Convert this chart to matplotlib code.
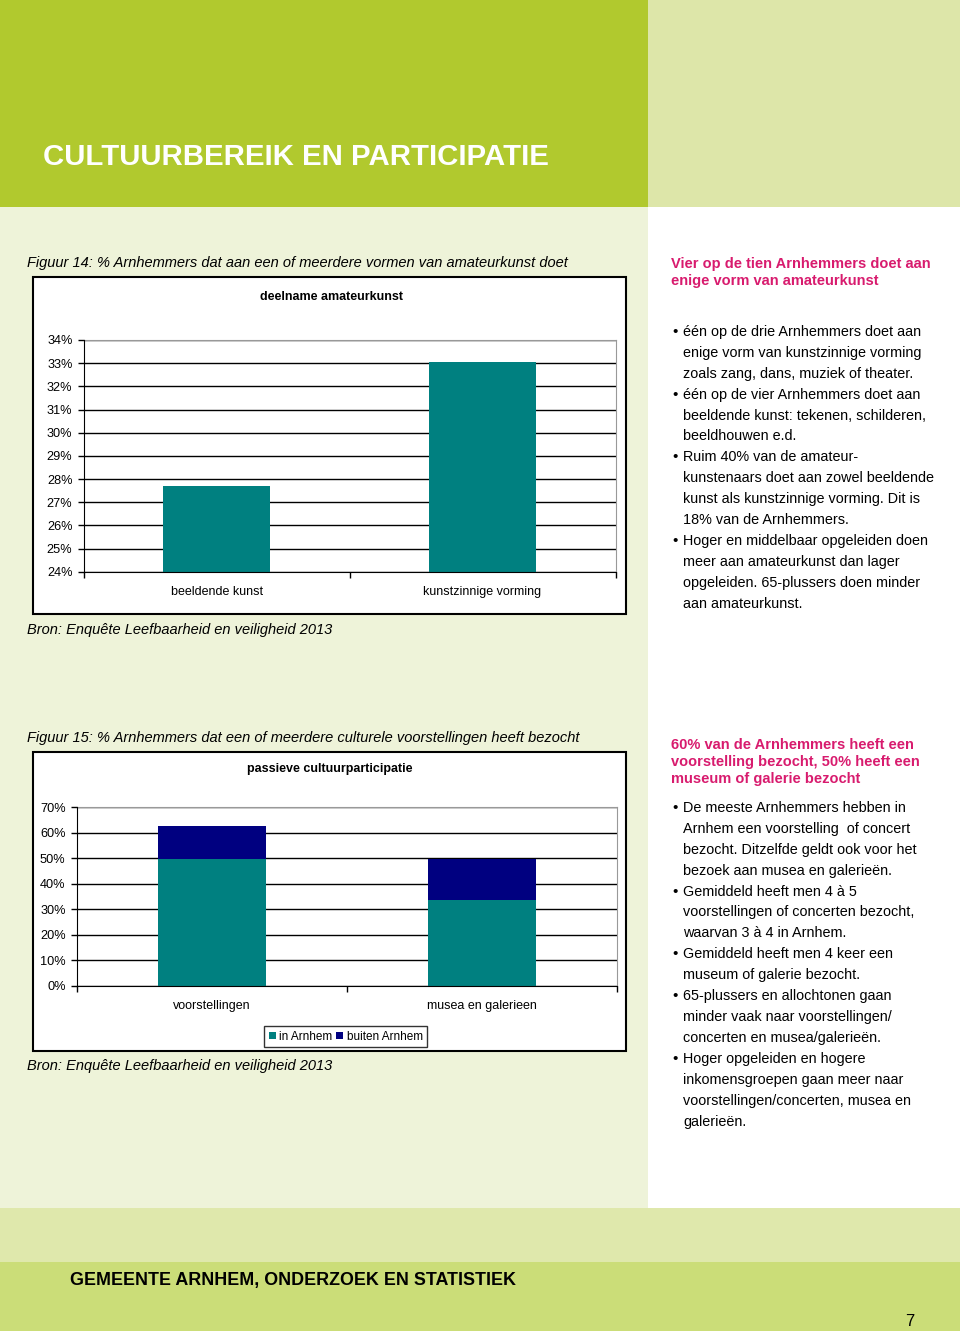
import matplotlib
matplotlib.use("Agg")
import matplotlib.pyplot as plt
from matplotlib.patches import Rectangle

plt.rcParams['font.family'] = ['Liberation Sans', 'DejaVu Sans']

# figuur 14: deelname amateurkunst
cats1 = ['beeldende kunst', 'kunstzinnige vorming']
deelname = [27.7, 33.05]
yticks1 = list(range(24, 35))

# figuur 15: passieve cultuurparticipatie
cats2 = ['voorstellingen', 'musea en galerieen']
in_arnhem = [49.5, 33.7]
buiten_arnhem = [12.9, 15.9]
yticks2 = list(range(0, 71, 10))

bullets1 = [
    ["één op de drie Arnhemmers doet aan", "enige vorm van kunstzinnige vorming",
     "zoals zang, dans, muziek of theater."],
    ["één op de vier Arnhemmers doet aan", "beeldende kunst: tekenen, schilderen,",
     "beeldhouwen e.d."],
    ["Ruim 40% van de amateur-", "kunstenaars doet aan zowel beeldende",
     "kunst als kunstzinnige vorming. Dit is", "18% van de Arnhemmers."],
    ["Hoger en middelbaar opgeleiden doen", "meer aan amateurkunst dan lager",
     "opgeleiden. 65-plussers doen minder", "aan amateurkunst."],
]
bullets2 = [
    ["De meeste Arnhemmers hebben in", "Arnhem een voorstelling  of concert",
     "bezocht. Ditzelfde geldt ook voor het", "bezoek aan musea en galerieën."],
    ["Gemiddeld heeft men 4 à 5", "voorstellingen of concerten bezocht,",
     "waarvan 3 à 4 in Arnhem."],
    ["Gemiddeld heeft men 4 keer een", "museum of galerie bezocht."],
    ["65-plussers en allochtonen gaan", "minder vaak naar voorstellingen/",
     "concerten en musea/galerieën."],
    ["Hoger opgeleiden en hogere", "inkomensgroepen gaan meer naar",
     "voorstellingen/concerten, musea en", "galerieën."],
]

W, H = 960, 1331
TEAL = '#008080'
NAVY = '#000080'
PINK = '#D81B6E'

fig = plt.figure(figsize=(W / 100, H / 100), dpi=100)
bg = fig.add_axes([0, 0, 1, 1])
bg.set_xlim(0, W)
bg.set_ylim(H, 0)
bg.axis('off')

# page blocks
bg.add_patch(Rectangle((0, 0), 648, 207, color='#B1C92E', lw=0))
bg.add_patch(Rectangle((648, 0), W - 648, 207, color='#DDE6A9', lw=0))
bg.add_patch(Rectangle((0, 207), 648, 1001, color='#EEF3D9', lw=0))
bg.add_patch(Rectangle((648, 207), W - 648, 1001, color='white', lw=0))
bg.add_patch(Rectangle((0, 1208), W, 54, color='#DFE8AC', lw=0))
bg.add_patch(Rectangle((0, 1262), W, H - 1262, color='#CBDD78', lw=0))

# chart frames
bg.add_patch(Rectangle((33, 277), 593, 337, facecolor='white', edgecolor='black', lw=1.5))
bg.add_patch(Rectangle((33, 752), 593, 299, facecolor='white', edgecolor='black', lw=1.5))

bg.text(43, 157, 'CULTUURBEREIK EN PARTICIPATIE', color='white', fontsize=21.2,
        weight='bold', va='center', ha='left')
bg.text(27, 263, 'Figuur 14: % Arnhemmers dat aan een of meerdere vormen van amateurkunst doet',
        fontsize=10.5, style='italic', va='center')
bg.text(27, 630, 'Bron: Enquête Leefbaarheid en veiligheid 2013', fontsize=10.5,
        style='italic', va='center')
bg.text(27, 738, 'Figuur 15: % Arnhemmers dat een of meerdere culturele voorstellingen heeft bezocht',
        fontsize=10.5, style='italic', va='center')
bg.text(27, 1066, 'Bron: Enquête Leefbaarheid en veiligheid 2013', fontsize=10.5,
        style='italic', va='center')
bg.text(332, 297, 'deelname amateurkunst', fontsize=9, weight='bold', ha='center', va='center')
bg.text(330, 769, 'passieve cultuurparticipatie', fontsize=9, weight='bold', ha='center', va='center')

bg.text(70, 1281, 'GEMEENTE ARNHEM, ONDERZOEK EN STATISTIEK', fontsize=12.9,
        weight='bold', va='center')
bg.text(910, 1321, '7', fontsize=12, va='center', ha='center')


def side_text(heading, items, y0, yb, step=20.9):
    y = y0
    for line in heading:
        bg.text(671, y, line, color=PINK, fontsize=10.5, weight='bold', va='center')
        y += 17
    y = yb
    for item in items:
        bg.text(675, y, '•', fontsize=11, ha='center', va='center')
        for line in item:
            bg.text(683, y, line, fontsize=10.33, va='center')
            y += step


side_text(['Vier op de tien Arnhemmers doet aan', 'enige vorm van amateurkunst'],
          bullets1, 264, 332)
side_text(['60% van de Arnhemmers heeft een', 'voorstelling bezocht, 50% heeft een',
           'museum of galerie bezocht'], bullets2, 745, 808)


def add_ax(l, t, r, b):
    return fig.add_axes([l / W, 1 - b / H, (r - l) / W, (b - t) / H])


def style_ax(ax, ticks, cats):
    ax.set_facecolor('none')
    ax.set_yticks(ticks)
    ax.set_yticklabels([f'{t}%' for t in ticks], fontsize=9.2)
    ax.set_ylim(ticks[0], ticks[-1])
    ax.set_xlim(-0.5, len(cats) - 0.5)
    ax.set_xticks(range(len(cats)))
    ax.set_xticklabels(cats, fontsize=9)
    ax.set_xticks([i - 0.5 for i in range(len(cats) + 1)], minor=True)
    ax.tick_params(axis='x', which='major', length=0, pad=10)
    ax.tick_params(axis='x', which='minor', length=4, direction='out', width=1)
    ax.tick_params(axis='y', length=4, width=1, pad=4)
    ax.grid(axis='y', color='black', lw=1)
    ax.set_axisbelow(True)
    for s in ['top', 'right']:
        ax.spines[s].set_color('#999999')
    for s in ['left', 'bottom']:
        ax.spines[s].set_color('black')
        ax.spines[s].set_zorder(5)


ax1 = add_ax(83.6, 340, 615.5, 571.7)
ax1.bar(range(len(cats1)), deelname, width=0.4, color=TEAL)
style_ax(ax1, yticks1, cats1)

ax2 = add_ax(76.7, 807, 617.4, 985.7)
ax2.bar(range(len(cats2)), in_arnhem, width=0.4, color=TEAL, label='in Arnhem')
ax2.bar(range(len(cats2)), buiten_arnhem, width=0.4, bottom=in_arnhem, color=NAVY,
        label='buiten Arnhem')
style_ax(ax2, yticks2, cats2)
leg = ax2.legend(loc='center', bbox_to_anchor=(345.7 / W, 1 - 1036.5 / H),
                 bbox_transform=fig.transFigure, ncol=2, fontsize=8.5, frameon=True,
                 fancybox=False, handlelength=0.6, handleheight=0.6, handletextpad=0.3,
                 columnspacing=0.3, borderpad=0.35)
leg.get_frame().set_edgecolor('black')
leg.get_frame().set_linewidth(1)

fig.savefig('out.png', dpi=100)
